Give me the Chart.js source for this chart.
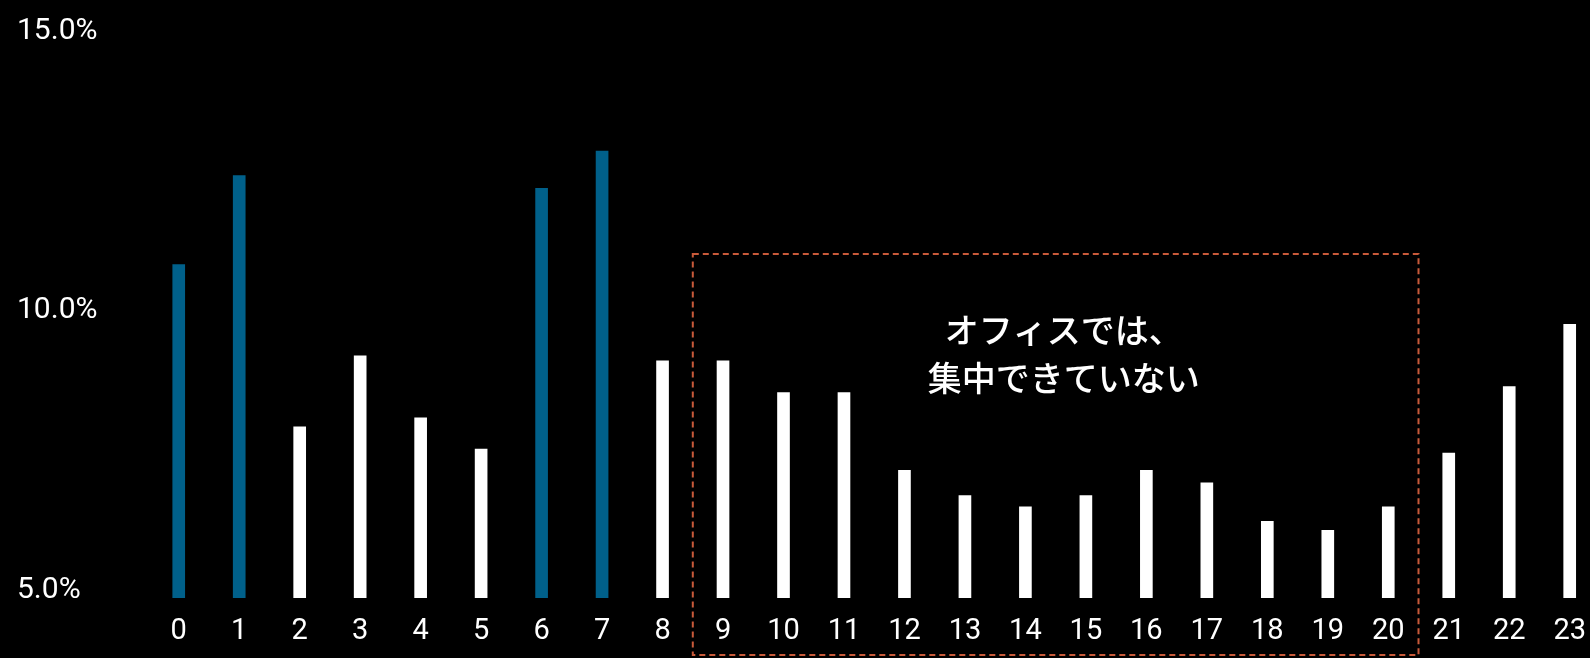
<!DOCTYPE html>
<html lang="ja">
<head>
<meta charset="utf-8">
<script src="https://cdn.jsdelivr.net/npm/chart.js@4.4.1/dist/chart.umd.min.js"></script>
<style>
html, body { margin: 0; padding: 0; background: #000; overflow: hidden; }
#wrap { width: 1602px; height: 658px; }
</style>
</head>
<body>
<div id="wrap"><canvas id="chart" width="1602" height="658"></canvas></div>
<script>
// 時間帯ごとの割合
var hours = ['0', '1', '2', '3', '4', '5', '6', '7', '8', '9', '10', '11',
             '12', '13', '14', '15', '16', '17', '18', '19', '20', '21', '22', '23'];
var share = [10.96, 12.55, 8.06, 9.33, 8.22, 7.66, 12.32, 12.99, 9.24, 9.24, 8.67, 8.67,
             7.28, 6.83, 6.63, 6.83, 7.28, 7.06, 6.37, 6.21, 6.63, 7.59, 8.78, 9.89];
var focusHours = ['0', '1', '6', '7'];
var yTicks = [5, 10, 15];

// 注釈
var noteLines = ['オフィスでは、', '集中できていない'];
var noteFrom = '9';
var noteTo = '20';
var noteTop = 11.15;

var barColors = hours.map(function (h) {
    return focusHours.indexOf(h) >= 0 ? '#00608a' : '#ffffff';
});

var noteBox = {
    id: 'noteBox',
    afterDatasetsDraw: function (chart) {
        const x = chart.scales.x;
        const y = chart.scales.y;
        const ctx = chart.ctx;
        const half = (x.getPixelForValue(1) - x.getPixelForValue(0)) / 2;
        const left = x.getPixelForValue(hours.indexOf(noteFrom)) - half;
        const right = x.getPixelForValue(hours.indexOf(noteTo)) + half;
        const top = y.getPixelForValue(noteTop);
        const bottom = chart.height - 3;
        ctx.save();
        ctx.strokeStyle = '#c95a3a';
        ctx.lineWidth = 2;
        ctx.setLineDash([6, 4]);
        ctx.strokeRect(left, top, right - left, bottom - top);
        ctx.setLineDash([]);
        ctx.fillStyle = '#ffffff';
        ctx.font = '500 34px "Noto Sans CJK JP"';
        ctx.textAlign = 'center';
        ctx.textBaseline = 'middle';
        const cx = (left + right) / 2 + 8;
        noteLines.forEach(function (t, i) {
            ctx.fillText(t, cx, top + 76 + i * 48.5);
        });
        ctx.restore();
    }
};

var drawChart = function (id) {
    const ctx = document.getElementById(id);
    new Chart(ctx, {
        type: 'bar',
        data: {
            labels: hours,
            datasets: [{
                data: share,
                backgroundColor: barColors,
                barThickness: 12,
            }],
        },
        options: {
            responsive: false,
            animation: false,
            layout: { padding: { left: 17, top: 38.5, right: 0, bottom: 0 } },
            plugins: { legend: { display: false }, tooltip: { enabled: false } },
            scales: {
                x: {
                    grid: { display: false, drawTicks: false },
                    border: { display: false },
                    ticks: {
                        color: '#ffffff',
                        font: { family: 'Roboto', size: 29 },
                        padding: 16,
                        maxRotation: 0,
                        autoSkip: false,
                    },
                    afterFit: function (s) { s.height = 60; },
                },
                y: {
                    min: 5,
                    max: 15,
                    grid: { display: false, drawTicks: false },
                    border: { display: false },
                    ticks: {
                        color: '#ffffff',
                        font: { family: 'Roboto', size: 30 },
                        crossAlign: 'far',
                        labelOffset: -7.5,
                        callback: function (v) { return v.toFixed(1) + '%'; },
                    },
                    afterBuildTicks: function (s) {
                        s.ticks = yTicks.map(function (v) { return { value: v }; });
                    },
                    afterFit: function (s) { s.width = 131.5; },
                },
            },
        },
        plugins: [noteBox],
    });
}

drawChart('chart');
</script>
</body>
</html>
